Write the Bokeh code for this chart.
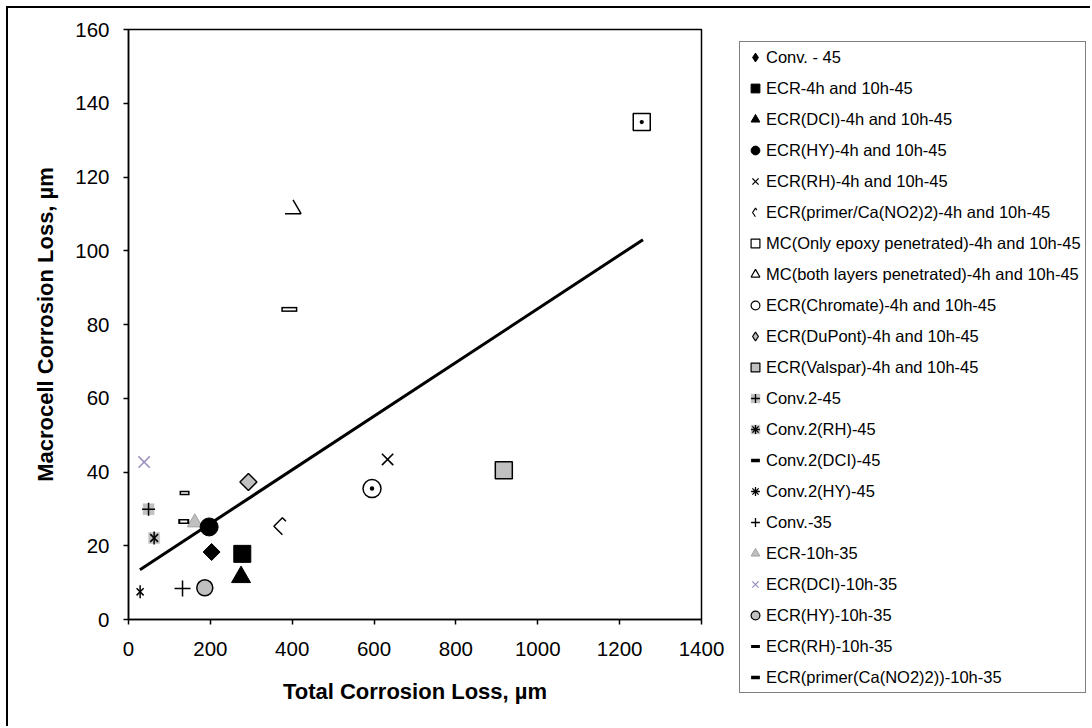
import math
from bokeh.plotting import figure
from bokeh.layouts import row
from bokeh.models import Range1d, FixedTicker, Legend, LegendItem, ColumnDataSource
from bokeh.embed import file_html
from bokeh.resources import INLINE

# ---------------- data ----------------
series_labels = [
    "Conv. - 45",
    "ECR-4h and 10h-45",
    "ECR(DCI)-4h and 10h-45",
    "ECR(HY)-4h and 10h-45",
    "ECR(RH)-4h and 10h-45",
    "ECR(primer/Ca(NO2)2)-4h and 10h-45",
    "MC(Only epoxy penetrated)-4h and 10h-45",
    "MC(both layers penetrated)-4h and 10h-45",
    "ECR(Chromate)-4h and 10h-45",
    "ECR(DuPont)-4h and 10h-45",
    "ECR(Valspar)-4h and 10h-45",
    "Conv.2-45",
    "Conv.2(RH)-45",
    "Conv.2(DCI)-45",
    "Conv.2(HY)-45",
    "Conv.-35",
    "ECR-10h-35",
    "ECR(DCI)-10h-35",
    "ECR(HY)-10h-35",
    "ECR(RH)-10h-35",
    "ECR(primer(Ca(NO2)2))-10h-35",
]
total_loss = [203, 278, 275, 197, 633, 376, 1254, 402, 595, 293, 917,
              49, 62.6, 135, 28.4, 132, 162, 38.2, 186.4, 137, 393]
macrocell_loss = [18.3, 17.8, 11.5, 25.1, 43.4, 25.3, 134.9, 111.3, 35.5, 37.3, 40.5,
                  29.9, 22.1, 26.6, 7.5, 8.4, 26.3, 42.7, 8.6, 34.3, 84.1]
trend_x = [28, 1257]
trend_y = [13.5, 103.0]
x_ticks = [0, 200, 400, 600, 800, 1000, 1200, 1400]
y_ticks = [0, 20, 40, 60, 80, 100, 120, 140, 160]

# ---------------- styles ----------------
BLACK = "#000000"
GRAY = "#C0C0C0"
PURPLE = "#9D90C0"
Q = math.pi / 4
V = math.pi / 2


def L(marker, size=9, fill=None, line=BLACK, lw=1.5, angle=0.0, dash="solid", offset=0):
    return dict(marker=marker, size=size, fill=fill, line=line, lw=lw, angle=angle,
                dash=dash, offset=offset)


# marks in the plot area
styles = [
    [L("square", 12, BLACK, angle=Q, lw=1)],
    [L("square", 17, BLACK, lw=1)],
    [L("triangle", 19, BLACK, lw=1)],
    [L("circle", 18, BLACK, lw=1)],
    [L("x", 16, lw=1.6)],
    [L("square", 12, None, angle=Q, dash="29 19", offset=12)],
    [L("square_dot", 17, "white")],
    [L("triangle", 16, None, dash="32 16")],
    [L("circle_dot", 18, "white")],
    [L("square", 12, GRAY, angle=Q)],
    [L("square", 17, GRAY)],
    [L("square", 11, GRAY, line=GRAY, lw=0.5), L("cross", 13)],
    [L("square", 11, GRAY, line=GRAY, lw=0.5), L("x", 11), L("dash", 13, angle=V)],
    [L("dash", 11, lw=5), L("dash", 7, line="white", lw=2)],
    [L("x", 10), L("dash", 13, angle=V)],
    [L("cross", 16)],
    [L("triangle", 15, GRAY, line="#A0A0A0", lw=1)],
    [L("x", 16, line=PURPLE)],
    [L("circle", 16, GRAY)],
    [L("dash", 10, lw=4.5), L("dash", 7, line="white", lw=1.5)],
    [L("dash", 16, lw=5), L("dash", 13, line="white", lw=2)],
]
# marks in the legend (legend glyphs are drawn at a fixed size)
legend_styles = [
    [L("diamond", fill=BLACK, lw=1)],
    [L("square", fill=BLACK, lw=1)],
    [L("triangle", fill=BLACK, lw=1)],
    [L("circle", fill=BLACK, lw=1)],
    [L("x", lw=1.3)],
    [L("diamond", dash="13 8", offset=13, lw=1.2)],
    [L("square", fill="white", lw=1.2)],
    [L("triangle", fill="white", lw=1.2)],
    [L("circle", fill="white", lw=1.2)],
    [L("diamond", fill=GRAY, lw=1.2)],
    [L("square", fill=GRAY, lw=1.2)],
    [L("square", fill=GRAY, line=GRAY, lw=0.5), L("cross", lw=1.3)],
    [L("square", fill=GRAY, line=GRAY, lw=0.5), L("asterisk", lw=1.3)],
    [L("dash", lw=3.5)],
    [L("asterisk", lw=1.3)],
    [L("cross", lw=1.3)],
    [L("triangle", fill=GRAY, line="#A0A0A0", lw=1)],
    [L("x", line=PURPLE, lw=1.3)],
    [L("circle", fill=GRAY, lw=1.2)],
    [L("dash", lw=3)],
    [L("dash", lw=3.5)],
]
draw_order = [16] + [i for i in range(len(series_labels)) if i != 16]

FONT = "Liberation Sans"


def add_marks(fig, i, layers):
    src = ColumnDataSource(dict(x=[total_loss[i]], y=[macrocell_loss[i]]))
    out = []
    for st in layers:
        out.append(fig.scatter("x", "y", source=src, marker=st["marker"], size=st["size"],
                               fill_color=st["fill"], line_color=st["line"],
                               line_width=st["lw"], angle=st["angle"],
                               line_dash=st["dash"], line_dash_offset=st["offset"]))
    return out


# ---------------- main chart ----------------
p = figure(width=729, height=720, output_backend="svg", toolbar_location=None,
           x_range=Range1d(0, 1400), y_range=Range1d(0, 160),
           min_border_left=120, min_border_right=36, min_border_top=21, min_border_bottom=109,
           background_fill_color="white", border_fill_color="white")
p.frame_align = False

p.xgrid.visible = False
p.ygrid.visible = False
p.outline_line_color = BLACK
p.outline_line_width = 1.5

for ax, ticks in ((p.xaxis[0], x_ticks), (p.yaxis[0], y_ticks)):
    ax.ticker = FixedTicker(ticks=ticks)
    ax.major_label_text_font = FONT
    ax.major_label_text_font_size = "20.5px"
    ax.major_label_text_color = BLACK
    ax.axis_line_color = BLACK
    ax.axis_line_width = 1.5
    ax.major_tick_line_color = BLACK
    ax.major_tick_line_width = 1.5
    ax.major_tick_out = 5
    ax.major_tick_in = 0
    ax.minor_tick_line_color = None
    ax.axis_label_text_font = FONT
    ax.axis_label_text_font_size = "22px"
    ax.axis_label_text_font_style = "bold"
    ax.axis_label_text_color = BLACK

p.xaxis.axis_label = "Total Corrosion Loss, µm"
p.yaxis.axis_label = "Macrocell Corrosion Loss, µm"
p.xaxis.major_label_standoff = 17
p.yaxis.major_label_standoff = 14
p.xaxis.axis_label_standoff = 20
p.yaxis.axis_label_standoff = 14

p.line(trend_x, trend_y, line_color=BLACK, line_width=3)
for i in draw_order:
    add_marks(p, i, styles[i])

# ---------------- legend panel ----------------
lg = figure(width=355, height=720, output_backend="svg", toolbar_location=None,
            x_axis_type=None, y_axis_type=None,
            x_range=Range1d(-2, -1), y_range=Range1d(-2, -1),
            min_border_left=0, min_border_right=0, min_border_top=31, min_border_bottom=31,
            background_fill_color="white", border_fill_color="white", outline_line_color=None)
lg.frame_align = False
lg.xgrid.visible = False
lg.ygrid.visible = False

items = [LegendItem(label=series_labels[i], renderers=add_marks(lg, i, legend_styles[i]))
         for i in range(len(series_labels))]
legend = Legend(items=items, location="top_left", margin=2, padding=4, spacing=9,
                glyph_width=22, glyph_height=22, label_height=22, label_standoff=0,
                label_text_font=FONT, label_text_font_size="16.5px", label_text_color=BLACK,
                border_line_color=BLACK, border_line_width=1.5,
                background_fill_color="white", background_fill_alpha=1.0)
lg.add_layout(legend)

layout = row(p, lg, spacing=0)
layout.styles = {"margin-left": "8px", "margin-top": "8px", "box-shadow": "-2px -2px 0 0 #000"}

open("out.html", "w").write(file_html(layout, INLINE))
